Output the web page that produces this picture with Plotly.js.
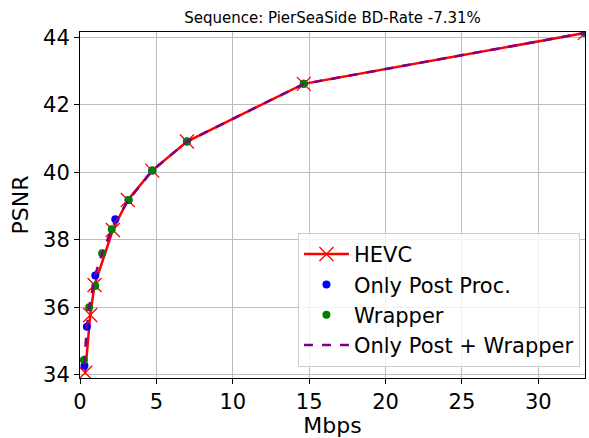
<!DOCTYPE html>
<html>
<head>
<meta charset="utf-8">
<script src="https://cdn.plot.ly/plotly-3.0.1.min.js"></script>
<style>html,body{margin:0;padding:0;background:#fff;}#chart{width:589px;height:438px;}</style>
</head>
<body>
<div id="chart"></div>
<script>
const hevcRate = [0.34, 0.67, 0.95, 2.15, 3.13, 4.73, 7.0, 14.65, 33.06];
const hevcPsnr = [34.06, 35.77, 36.66, 38.29, 39.18, 40.05, 40.91, 42.62, 44.13];

const postRate = [0.29, 0.45, 1.0, 2.31, 3.18, 4.73, 7.0, 14.65, 33.06];
const postPsnr = [34.27, 35.42, 36.94, 38.61, 39.18, 40.05, 40.91, 42.62, 44.13];

const wrapRate = [0.25, 0.6, 1.0, 1.45, 2.08, 3.18, 4.73, 7.0, 14.65, 33.06];
const wrapPsnr = [34.44, 36.0, 36.63, 37.6, 38.31, 39.18, 40.05, 40.91, 42.62, 44.13];

const bothRate = [0.27, 0.45, 0.6, 0.98, 1.45, 2.2, 3.18, 4.73, 7.0, 14.65, 33.06];
const bothPsnr = [34.3, 35.42, 36.0, 36.94, 37.6, 38.45, 39.18, 40.05, 40.91, 42.62, 44.13];

const xTicks = [0, 5, 10, 15, 20, 25, 30];
const yTicks = [34, 36, 38, 40, 42, 44];

const traces = [
  {x: hevcRate, y: hevcPsnr, name: 'HEVC', legendgroup: 'a', mode: 'lines+markers', type: 'scatter',
   line: {color: 'red', width: 2.5},
   marker: {symbol: 'x-thin-open', size: 14, color: 'red', line: {color: 'red', width: 1.3}}},
  {x: postRate, y: postPsnr, name: 'Only Post Proc.', legendgroup: 'b', mode: 'markers', type: 'scatter',
   marker: {symbol: 'circle', size: 8, color: 'blue'}},
  {x: wrapRate, y: wrapPsnr, name: 'Wrapper', legendgroup: 'c', mode: 'markers', type: 'scatter',
   marker: {symbol: 'circle', size: 8, color: 'green'}},
  {x: bothRate, y: bothPsnr, name: 'Only Post + Wrapper', legendgroup: 'd', mode: 'lines', type: 'scatter',
   line: {color: 'purple', width: 2.5, dash: 'dash'}}
];

const axisCommon = {
  showline: true, mirror: true, linecolor: 'black', linewidth: 1,
  ticks: 'outside', ticklen: 5, tickwidth: 1, tickcolor: 'black',
  showgrid: true, gridcolor: '#bdbdbd', gridwidth: 1.2, zeroline: false,
  tickfont: {family: 'DejaVu Sans', size: 21, color: 'black'}
};

const layout = {
  width: 589, height: 438,
  margin: {l: 80, r: 4, t: 32, b: 60},
  paper_bgcolor: 'white', plot_bgcolor: 'white',
  font: {family: 'DejaVu Sans', color: 'black'},
  title: {text: 'Sequence: PierSeaSide BD-Rate -7.31%', font: {family: 'DejaVu Sans', size: 15, color: 'black'},
          x: 0.5, xref: 'paper', y: 0.959, yref: 'container', yanchor: 'middle'},
  xaxis: Object.assign({}, axisCommon, {range: [0, 33.06], tickvals: xTicks,
    title: {text: 'Mbps', font: {family: 'DejaVu Sans', size: 22, color: 'black'}, standoff: 6}}),
  yaxis: Object.assign({}, axisCommon, {range: [33.905, 44.157], tickvals: yTicks,
    title: {text: 'PSNR', font: {family: 'DejaVu Sans', size: 22, color: 'black'}, standoff: 8}}),
  showlegend: true,
  legend: {x: 0.99, y: 0.032, xanchor: 'right', yanchor: 'bottom',
    bgcolor: 'rgba(255,255,255,0.8)', bordercolor: '#cccccc', borderwidth: 1,
    font: {family: 'DejaVu Sans', size: 21, color: 'black'}, itemwidth: 45, tracegroupgap: 0}
};

Plotly.newPlot('chart', traces, layout, {displayModeBar: false, staticPlot: true});
</script>
</body>
</html>
